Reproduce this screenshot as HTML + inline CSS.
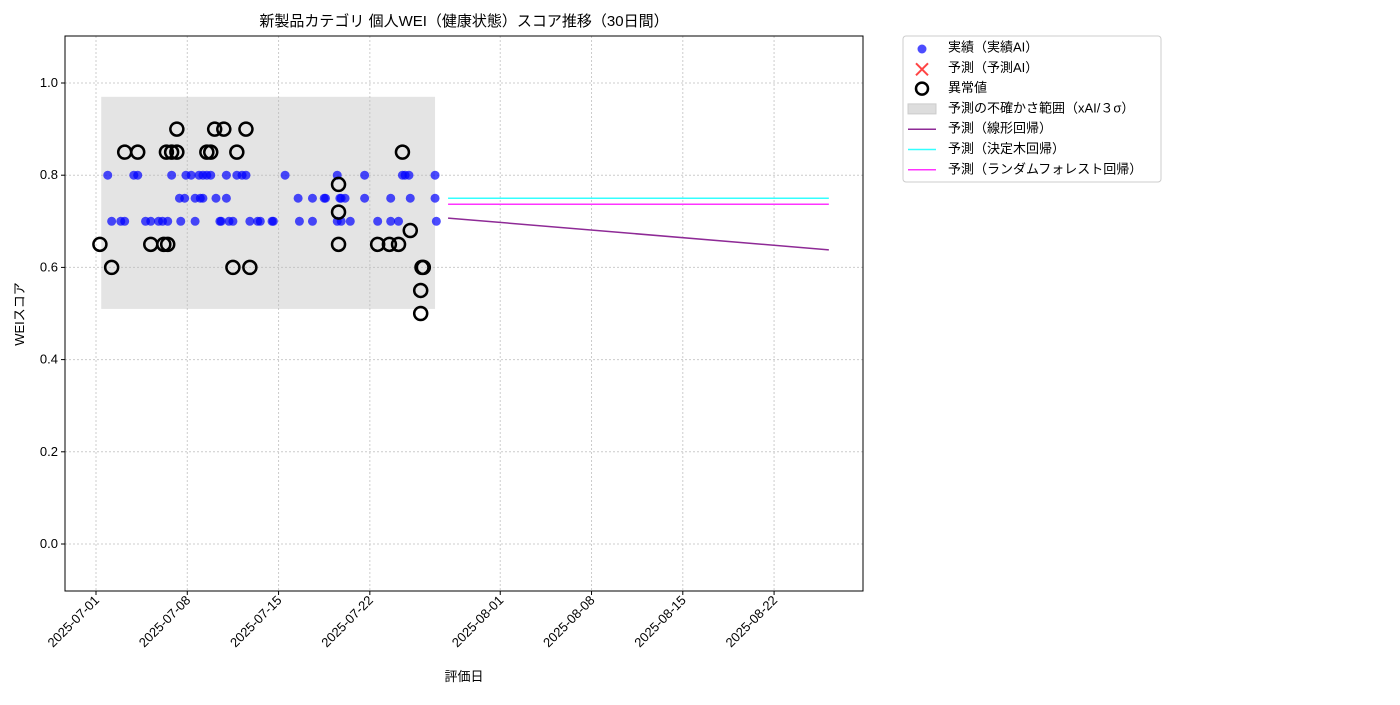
<!DOCTYPE html>
<html><head><meta charset="utf-8"><style>body{margin:0;background:#fff}svg text{font-family:"Liberation Sans","Noto Sans CJK JP",sans-serif}</style></head>
<body>
<svg id="c" width="1400" height="700" xmlns="http://www.w3.org/2000/svg"></svg>
<script>
const xTickLabels=["2025-07-01","2025-07-08","2025-07-15","2025-07-22","2025-08-01","2025-08-08","2025-08-15","2025-08-22"];
const xTickDays=[0,7,14,21,31,38,45,52];
const yTicks=[0.0,0.2,0.4,0.6,0.8,1.0];
const actualDays=[0.9,1.2,1.9,2.2,2.9,3.2,3.8,4.2,4.8,5.1,5.5,5.8,6.4,6.5,6.8,6.9,7.3,7.6,7.6,7.9,8.0,8.2,8.2,8.5,8.8,9.2,9.5,9.6,10.0,10.0,10.2,10.5,10.8,11.2,11.5,11.8,12.4,12.6,13.5,13.6,14.5,15.5,15.6,16.6,16.6,17.5,17.6,18.5,18.5,18.7,18.8,18.8,19.1,19.5,20.6,20.6,21.6,22.6,22.6,23.2,23.5,23.7,24.0,24.1,26.0,26.0,26.1];
const actualVals=[0.8,0.7,0.7,0.7,0.8,0.8,0.7,0.7,0.7,0.7,0.7,0.8,0.75,0.7,0.75,0.8,0.8,0.75,0.7,0.8,0.75,0.8,0.75,0.8,0.8,0.75,0.7,0.7,0.75,0.8,0.7,0.7,0.8,0.8,0.8,0.7,0.7,0.7,0.7,0.7,0.8,0.75,0.7,0.75,0.7,0.75,0.75,0.8,0.7,0.75,0.75,0.7,0.75,0.7,0.8,0.75,0.7,0.75,0.7,0.7,0.8,0.8,0.8,0.75,0.8,0.75,0.7];
const anomDays=[0.3,1.2,2.2,3.2,4.2,5.2,5.4,5.5,5.8,6.2,6.2,8.5,8.8,9.1,9.8,10.5,10.8,11.5,11.8,18.6,18.6,18.6,21.6,22.5,23.2,23.5,24.1,24.9,24.9,25.0,25.1];
const anomVals=[0.65,0.6,0.85,0.85,0.65,0.65,0.85,0.65,0.85,0.85,0.9,0.85,0.85,0.9,0.9,0.6,0.85,0.9,0.6,0.78,0.72,0.65,0.65,0.65,0.65,0.85,0.68,0.55,0.5,0.6,0.6];
const bandDays=[0.4,26.0];
const bandVals=[0.51,0.97];
const forecastDays=[27.0,56.2];
const linearVals=[0.707,0.638];
const treeVals=[0.75,0.75];
const rfVals=[0.737,0.737];

const L=65,R=863,T=36,B=591;
const X=d=>96+13.04*d;
const Y=v=>544-v*461;
const svg=document.getElementById('c');
function mk(tag,attrs,name,parent){const e=document.createElementNS('http://www.w3.org/2000/svg',tag);for(const k in attrs)e.setAttribute(k,attrs[k]);


(parent||svg).appendChild(e);return e;}
function txt(x,y,s,name,extra){const t=mk('text',Object.assign({x:x,y:y,'font-size':13,fill:'#000'},extra||{}),name);t.textContent=s;return t;}

mk('rect',{x:L,y:T,width:R-L,height:B-T,fill:'#fff'},'plot-area');
// grid
xTickDays.forEach((d,i)=>{const x=X(d);mk('line',{x1:x,x2:x,y1:T,y2:B,stroke:'#ccc','stroke-dasharray':'2,2'},'x-grid-line');
mk('line',{x1:x,x2:x,y1:B,y2:B+4,stroke:'#000'},'x-tick');
txt(x+4,B+10,xTickLabels[i],'x-tick-label',{'text-anchor':'end',transform:`rotate(-45 ${x+4} ${B+10})`});});
yTicks.forEach(v=>{const y=Y(v);mk('line',{x1:L,x2:R,y1:y,y2:y,stroke:'#ccc','stroke-dasharray':'2,2'},'y-grid-line');
mk('line',{x1:L-4,x2:L,y1:y,y2:y,stroke:'#000'},'y-tick');
txt(L-7,y+4,v.toFixed(1),'y-tick-label',{'text-anchor':'end'});});
// band
mk('rect',{x:X(bandDays[0]),y:Y(bandVals[1]),width:X(bandDays[1])-X(bandDays[0]),height:Y(bandVals[0])-Y(bandVals[1]),fill:'#bbb','fill-opacity':0.4},'uncertainty-band');
// lines
function line(vals,color,name){mk('line',{x1:X(forecastDays[0]),y1:Y(vals[0]),x2:X(forecastDays[1]),y2:Y(vals[1]),stroke:color,'stroke-width':1.5},name);}
line(linearVals,'#8e2a96','linear-forecast-line');
line(treeVals,'#33ffff','tree-forecast-line');
line(rfVals,'#ff33ff','rf-forecast-line');
actualDays.forEach((d,i)=>mk('circle',{cx:X(d),cy:Y(actualVals[i]),r:4.5,fill:'#0000ff','fill-opacity':0.7},'actual-point'));
anomDays.forEach((d,i)=>mk('circle',{cx:X(d),cy:Y(anomVals[i]),r:6.5,fill:'none',stroke:'#000','stroke-width':2.5},'anomaly-marker'));
mk('rect',{x:L,y:T,width:R-L,height:B-T,fill:'none',stroke:'#000'},'plot-frame');
txt(464,26,'新製品カテゴリ 個人WEI（健康状態）スコア推移（30日間）','chart-title',{'text-anchor':'middle','font-size':15});
txt(464,681,'評価日','x-axis-title',{'text-anchor':'middle'});
txt(24,314,'WEIスコア','y-axis-title',{'text-anchor':'middle',transform:'rotate(-90 24 314)'});
// legend
mk('rect',{x:903,y:36,width:258,height:146,fill:'#fff',stroke:'#ccc',rx:3},'legend-box');
const items=['実績（実績AI）','予測（予測AI）','異常値','予測の不確かさ範囲（xAI/３σ）','予測（線形回帰）','予測（決定木回帰）','予測（ランダムフォレスト回帰）'];
items.forEach((s,i)=>{const y=47+i*20.3;txt(948,y+4.5,s,'legend-label');
if(i==0)mk('circle',{cx:922,cy:y+2,r:4.5,fill:'#0000ff','fill-opacity':0.7},'legend-actual');
if(i==1){mk('path',{d:`M916 ${y-4} l12 12 M928 ${y-4} l-12 12`,stroke:'#ff4444','stroke-width':2},'legend-forecast');}
if(i==2)mk('circle',{cx:922,cy:y+1,r:6,fill:'none',stroke:'#000','stroke-width':2.5},'legend-anomaly');
if(i==3)mk('rect',{x:908,y:y-4,width:28,height:10,fill:'#ddd',stroke:'#ccc'},'legend-band');
if(i>3)mk('line',{x1:908,x2:936,y1:y+1,y2:y+1,stroke:['#8e2a96','#33ffff','#ff33ff'][i-4],'stroke-width':1.5},'legend-line');});
</script>
</body></html>
